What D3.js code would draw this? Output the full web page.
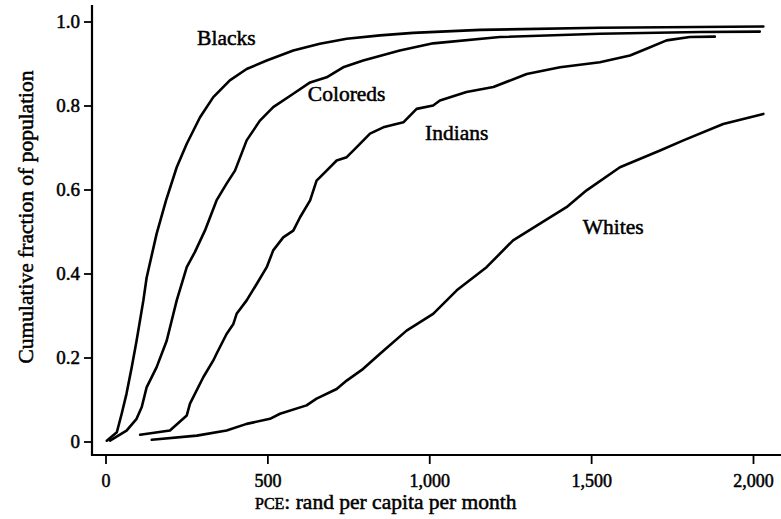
<!DOCTYPE html>
<html>
<head>
<meta charset="utf-8">
<script src="https://cdn.jsdelivr.net/npm/d3@7/dist/d3.min.js"></script>
<style>
  body { margin: 0; background: #fff; }
  svg { display: block; }
  text { font-family: "Liberation Serif", "Times New Roman", serif; fill: #000; stroke: #000; stroke-width: 0.5px; }
</style>
</head>
<body>
<div id="drawing"></div>
<script>
// cumulative distributions of PCE (rand, fraction)
var blacksX = [4, 35, 50, 65, 81, 96, 117, 127, 158, 187, 220, 251, 292, 333, 384, 436, 498, 580, 662, 745, 848, 950, 1157, 1527, 2032];
var blacksY = [0.002, 0.022, 0.066, 0.114, 0.177, 0.24, 0.336, 0.39, 0.495, 0.574, 0.653, 0.709, 0.772, 0.82, 0.86, 0.887, 0.907, 0.931, 0.947, 0.959, 0.967, 0.973, 0.98, 0.985, 0.988];

var coloredsX = [14, 65, 96, 112, 127, 158, 189, 220, 251, 276, 307, 343, 374, 400, 436, 477, 518, 580, 632, 683, 734, 796, 909, 1012, 1218, 1527, 1836, 2021];
var coloredsY = [0.002, 0.026, 0.054, 0.082, 0.129, 0.177, 0.24, 0.336, 0.415, 0.451, 0.502, 0.574, 0.614, 0.645, 0.717, 0.764, 0.796, 0.828, 0.855, 0.867, 0.891, 0.907, 0.931, 0.948, 0.963, 0.971, 0.975, 0.976];

var indiansX = [107, 199, 251, 261, 302, 333, 343, 374, 395, 405, 436, 467, 498, 518, 549, 580, 601, 632, 652, 683, 714, 745, 776, 817, 858, 920, 961, 1012, 1033, 1115, 1198, 1301, 1404, 1527, 1620, 1671, 1733, 1805, 1882];
var indiansY = [0.016, 0.026, 0.062, 0.09, 0.153, 0.193, 0.209, 0.256, 0.28, 0.304, 0.336, 0.375, 0.415, 0.455, 0.486, 0.502, 0.534, 0.574, 0.621, 0.645, 0.669, 0.677, 0.701, 0.733, 0.748, 0.76, 0.792, 0.8, 0.812, 0.832, 0.844, 0.875, 0.891, 0.903, 0.919, 0.935, 0.955, 0.963, 0.964];

var whitesX = [143, 282, 374, 436, 508, 539, 621, 652, 714, 745, 796, 848, 930, 1012, 1085, 1177, 1259, 1332, 1424, 1486, 1589, 1713, 1785, 1908, 2032];
var whitesY = [0.004, 0.014, 0.026, 0.042, 0.054, 0.066, 0.086, 0.102, 0.125, 0.145, 0.173, 0.209, 0.264, 0.304, 0.36, 0.415, 0.479, 0.514, 0.558, 0.598, 0.653, 0.693, 0.717, 0.756, 0.78];

var groupNames = ["Blacks", "Coloreds", "Indians", "Whites"];
var xTicks = [0, 500, 1000, 1500, 2000];
var yTicks = [0, 0.2, 0.4, 0.6, 0.8, 1.0];

var W = 781, H = 519;

(function () {
    var x = d3.scaleLinear().domain([0, 2000]).range([105.5, 753]);
    var y = d3.scaleLinear().domain([0, 1]).range([441.5, 21.5]);
    var axisX = 92, axisY = 455;

    var svg = d3.select("#drawing").append("svg")
        .attr("width", W).attr("height", H);

    var series = [
        { name: groupNames[0], xs: blacksX, ys: blacksY, lx: 283, ly: 0.945 },
        { name: groupNames[1], xs: coloredsX, ys: coloredsY, lx: 625, ly: 0.81 },
        { name: groupNames[2], xs: indiansX, ys: indiansY, lx: 987, ly: 0.718 },
        { name: groupNames[3], xs: whitesX, ys: whitesY, lx: 1474, ly: 0.493 }
    ];

    // axes: spines drawn by hand, ticks by d3
    svg.append("line")
        .attr("x1", axisX).attr("x2", axisX).attr("y1", 5).attr("y2", axisY + 1)
        .attr("stroke", "#000").attr("stroke-width", 2.2);
    svg.append("line")
        .attr("x1", axisX - 1).attr("x2", W).attr("y1", axisY).attr("y2", axisY)
        .attr("stroke", "#000").attr("stroke-width", 2.2);

    var fmtY = function (d) { return d === 0 ? "0" : d3.format(".1f")(d); };
    var gy = svg.append("g")
        .attr("transform", "translate(" + axisX + ",0)")
        .call(d3.axisLeft(y).tickValues(yTicks).tickFormat(fmtY).tickSize(8).tickPadding(4));
    gy.select(".domain").remove();
    gy.selectAll("line").attr("stroke", "#000").attr("stroke-width", 1.8);
    gy.selectAll("text").attr("font-size", 19).attr("font-family", null).attr("dy", "0.34em");

    var gx = svg.append("g")
        .attr("transform", "translate(0," + axisY + ")")
        .call(d3.axisBottom(x).tickValues(xTicks).tickFormat(d3.format(",")).tickSize(9).tickPadding(10));
    gx.select(".domain").remove();
    gx.selectAll("line").attr("stroke", "#000").attr("stroke-width", 1.8);
    gx.selectAll("text").attr("font-size", 18).attr("font-family", null);

    // curves
    var line = d3.line()
        .x(function (d) { return x(d[0]); })
        .y(function (d) { return y(d[1]); });

    svg.selectAll(".curve")
        .data(series)
        .enter().append("path")
        .attr("class", "curve")
        .attr("d", function (s) { return line(s.xs.map(function (v, i) { return [v, s.ys[i]]; })); })
        .attr("fill", "none")
        .attr("stroke", "#000")
        .attr("stroke-width", 2.6)
        .attr("stroke-linejoin", "round")
        .attr("stroke-linecap", "round");

    svg.selectAll(".lbl")
        .data(series)
        .enter().append("text")
        .attr("class", "lbl")
        .attr("x", function (s) { return x(s.lx); })
        .attr("y", function (s) { return y(s.ly); })
        .attr("font-size", 21.5)
        .text(function (s) { return s.name; });

    // axis titles
    svg.append("text")
        .attr("transform", "translate(33,217) rotate(-90)")
        .attr("text-anchor", "middle")
        .attr("font-size", 21.5)
        .text("Cumulative fraction of population");

    var xt = svg.append("text")
        .attr("x", 255).attr("y", 509)
        .attr("font-size", 21.5);
    xt.append("tspan").attr("font-size", 16).text("PCE");
    xt.append("tspan").text(": rand per capita per month");
})();
</script>
</body>
</html>
